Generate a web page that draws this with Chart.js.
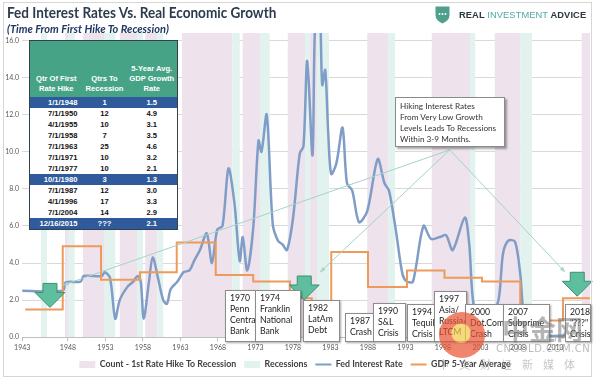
<!DOCTYPE html>
<html>
<head>
<meta charset="utf-8">
<script src="https://cdn.jsdelivr.net/npm/chart.js@4.4.1/dist/chart.umd.min.js"></script>
<style>
  body { margin: 0; background: #fff; }
  #wrap { position: relative; width: 600px; height: 384px; overflow: hidden; font-family: Lato, 'Open Sans', sans-serif; }
  #fedChart { position: absolute; left: 0; top: 0; }
  .frame { position: absolute; left: 3px; top: 2px; width: 589px; height: 375px; border: 1px solid #d6d6d6; box-sizing: border-box; pointer-events: none; }
  .title { position: absolute; left: 7px; top: 3px; font: bold 15.5px Lato, sans-serif; color: #2c3b4d; white-space: nowrap;
           transform: scaleX(0.875); transform-origin: left top; }
  .subtitle { position: absolute; left: 7px; top: 22px; font: italic bold 11px Lato, sans-serif; color: #1f3864; white-space: nowrap; }
  .logo { position: absolute; left: 435px; top: 6px; height: 18px; display: flex; align-items: center; white-space: nowrap; }
  .logo span.txt { margin-left: 9px; font: bold 9.3px 'Liberation Sans', Arial, sans-serif; color: #2b3640; letter-spacing: 0.1px; }
  .logo span.mid { color: #4fa9a2; font-weight: normal; }
  #tbl { position: absolute; left: 29px; top: 40px; width: 148px; border-collapse: collapse; table-layout: fixed;
         font: bold 7.6px 'Liberation Sans', Arial, sans-serif; color: #111; border: 1px solid #34404c; background: #fff; }
  #tbl th { background: #47a386; color: #fff; height: 53px; vertical-align: bottom; line-height: 10px; padding: 0 0 3px; font-weight: bold; }
  #tbl td { height: 11px; padding: 0; line-height: 11px; text-align: center; white-space: nowrap; overflow: hidden; }
  #tbl td:first-child { text-align: right; padding-right: 5px; }
  #tbl tr.hl td { background: #2f5a9c; color: #fff; }
  .note { position: absolute; left: 395px; top: 97px; width: 110px; height: 50px; box-sizing: border-box; background: #fff;
          border: 1px solid #8a8a8a; box-shadow: 2px 2px 2px rgba(0,0,0,0.35); padding: 3px 0 0 4px;
          font: 8.2px Lato, sans-serif; line-height: 11px; color: #333; white-space: nowrap; overflow: hidden; }
  .ev { position: absolute; box-sizing: border-box; background: #fff; border: 1px solid #8c8c8c; box-shadow: 1px 1px 2px rgba(0,0,0,0.35);
        overflow: hidden; padding: 1px 0 0 4px; font: 8.7px Lato, sans-serif; line-height: 11px; color: #222; white-space: nowrap; }
  .wm { position: absolute; pointer-events: none; white-space: nowrap; }
</style>
</head>
<body>
<div id="wrap">
  <canvas id="fedChart" width="600" height="384"></canvas>
  <div class="frame"></div>

  <div class="title">Fed Interest Rates Vs. Real Economic Growth</div>
  <div class="subtitle">(Time From First Hike To Recession)</div>
  <div class="logo">
    <svg width="15" height="18" viewBox="0 0 15 18">
      <path d="M0.5,0.5 H14.5 V9 Q14.5,14.5 7.5,17.5 Q0.5,14.5 0.5,9 Z" fill="#4e9f8b"/>
      <circle cx="4.5" cy="8" r="1" fill="#fff"/><circle cx="7.5" cy="8" r="1" fill="#fff"/><circle cx="10.5" cy="8" r="1" fill="#fff"/>
    </svg>
    <span class="txt">REAL <span class="mid">INVESTMENT</span> ADVICE</span>
  </div>

  <table id="tbl">
    <colgroup><col style="width:53px"><col style="width:44px"><col style="width:51px"></colgroup>
    <tr><th>Qtr Of First<br>Rate Hike</th><th>Qtrs To<br>Recession</th><th>5-Year Avg.<br>GDP Growth<br>Rate</th></tr>
    <tr class="hl"><td>1/1/1948</td><td>1</td><td>1.5</td></tr>
    <tr><td>7/1/1950</td><td>12</td><td>4.9</td></tr>
    <tr><td>4/1/1955</td><td>10</td><td>3.1</td></tr>
    <tr><td>7/1/1958</td><td>7</td><td>3.5</td></tr>
    <tr><td>7/1/1963</td><td>25</td><td>4.6</td></tr>
    <tr><td>7/1/1971</td><td>10</td><td>3.2</td></tr>
    <tr><td>7/1/1977</td><td>10</td><td>2.1</td></tr>
    <tr class="hl"><td>10/1/1980</td><td>3</td><td>1.3</td></tr>
    <tr><td>7/1/1987</td><td>12</td><td>3.0</td></tr>
    <tr><td>4/1/1996</td><td>17</td><td>3.3</td></tr>
    <tr><td>7/1/2004</td><td>14</td><td>2.9</td></tr>
    <tr class="hl"><td>12/16/2015</td><td>???</td><td>2.1</td></tr>
  </table>

  <div class="note">Hiking Interest Rates<br>From Very Low Growth<br>Levels Leads To Recessions<br>Within 3-9 Months.</div>

  <div class="ev" style="left:225px;top:290px;width:31px;height:52px;">1970<br>Penn<br>Central<br>Bank</div>
  <div class="ev" style="left:255px;top:290px;width:46px;height:52px;">1974<br>Franklin<br>National<br>Bank</div>
  <div class="ev" style="left:303px;top:300px;width:37px;height:42px;">1982<br>LatAm<br>Debt</div>
  <div class="ev" style="left:345px;top:313px;width:29px;height:29px;">1987<br>Crash</div>
  <div class="ev" style="left:373px;top:303px;width:33px;height:39px;">1990<br>S&amp;L<br>Crisis</div>
  <div class="ev" style="left:407px;top:304px;width:29px;height:38px;">1994<br>Tequila<br>Crisis</div>
  <div class="ev" style="left:434px;top:291px;width:33px;height:51px;">1997<br>Asia/<br>Russia/<br>LTCM</div>
  <div class="ev" style="left:465px;top:304px;width:39px;height:38px;">2000<br>Dot.Com<br>Crash</div>
  <div class="ev" style="left:503px;top:304px;width:47px;height:38px;">2007<br>Subprime<br>Crisis</div>
  <div class="ev" style="left:565px;top:304px;width:26px;height:38px;">2018<br>"???"<br>Crisis</div>

  <div class="wm" style="left:439px;top:312px;width:46px;height:46px;border-radius:50%;opacity:0.7;
       background:radial-gradient(circle at 48% 46%, #f6c845 0 26%, #e8502f 30% 100%);"></div>
  <div class="wm" style="left:502px;top:309px;font:bold 27px 'Noto Sans CJK SC',sans-serif;color:rgba(120,120,120,0.55);">中金网</div>
  <div class="wm" style="left:496px;top:343px;font:10px 'DejaVu Sans',sans-serif;color:rgba(140,140,140,0.6);letter-spacing:0.5px;">CNGOLD.COM.CN</div>
  <div class="wm" style="left:438px;top:356px;font:11px 'Noto Sans CJK SC',sans-serif;color:rgba(150,150,150,0.55);letter-spacing:10px;">中文财经新媒体</div>
</div>

<script>
// x positions are in years, y values in percent
const xTickYears = [1941.9, 1948, 1953, 1958, 1963, 1968, 1973, 1978, 1983, 1988, 1993, 1998, 2003, 2008, 2013];
const xTickLabels = ['1943', '1948', '1953', '1958', '1963', '1968', '1973', '1978', '1983', '1988', '1993', '1998', '2003', '2008', '2013'];
const yTicks = [0, 2, 4, 6, 8, 10, 12, 14, 16];

// first rate hike -> recession start (pink)
const hikeStarts = [1947.6, 1950.0, 1954.9, 1958.3, 1963.2, 1971.3, 1977.3, 1980.2, 1987.9, 1996.5, 2004.9, 2016.5];
const hikeEnds   = [1948.0, 1952.9, 1957.2, 1959.9, 1969.9, 1973.6, 1979.6, 1981.2, 1990.7, 2001.6, 2008.3, 2017.6];
// recessions (teal)
const recStarts = [1944.4, 1948.0, 1952.9, 1957.2, 1959.9, 1969.9, 1973.6, 1979.6, 1981.2, 1990.7, 2001.6, 2008.3];
const recEnds   = [1945.2, 1948.9, 1954.3, 1958.0, 1960.7, 1970.9, 1974.9, 1980.2, 1982.8, 1991.6, 2002.3, 2009.9];

const fedYears = [1941.9, 1947.3, 1947.7, 1949.7, 1950.1, 1952.5, 1952.9, 1953.6, 1954.3, 1954.9,
  1955.9, 1956.7, 1957.3, 1957.7, 1958.1, 1958.8, 1959.3, 1960.0, 1960.7, 1961.2,
  1961.7, 1962.6, 1963.4, 1964.2, 1964.8, 1965.6, 1966.5, 1967.2, 1967.9, 1968.6,
  1969.4, 1970.2, 1970.9, 1971.3, 1971.9, 1972.7, 1973.4, 1973.8, 1974.5, 1975.3,
  1976.0, 1976.6, 1977.2, 1978.0, 1978.9, 1979.4, 1979.9, 1980.6, 1980.9, 1981.3,
  1981.6, 1981.9, 1982.3, 1982.7, 1983.1, 1983.8, 1984.6, 1985.2, 1985.9, 1986.8,
  1987.9, 1989.3, 1990.2, 1990.8, 1991.7, 1992.6, 1993.2, 1994.0, 1995.4, 1996.4,
  1997.6, 1998.4, 1999.3, 2000.9, 2001.5, 2002.1, 2003.2, 2004.4, 2005.4, 2006.0,
  2006.7, 2007.6, 2008.3, 2008.8, 2009.5, 2015.8, 2016.5, 2017.6];
const fedRates = [2.5, 2.5, 2.95, 3.0, 3.3, 3.3, 3.5, 3.2, 1.0, 2.0,
  2.7, 3.0, 3.3, 3.0, 1.0, 3.0, 4.3, 3.2, 2.0, 1.8,
  2.6, 3.0, 3.5, 3.6, 4.1, 4.7, 5.6, 4.0, 5.8, 6.0,
  9.1, 7.2, 4.1, 5.4, 3.6, 5.9, 10.6, 10.0, 12.0, 6.1,
  5.2, 5.0, 4.7, 6.4, 9.9, 10.3, 14.9, 9.8, 16.3, 17.8,
  17.6, 13.6, 14.4, 11.0, 8.8, 9.4, 11.3, 8.3, 7.9, 6.2,
  6.8, 9.6, 8.3, 7.9, 5.8, 3.4, 3.0, 3.0, 6.0, 5.3,
  5.4, 5.5, 4.7, 6.45, 5.0, 1.7, 1.0, 1.2, 2.0, 4.5,
  5.2, 5.15, 3.4, 1.0, 0.15, 0.15, 0.4, 1.2];

// GDP 5-year average, each value holds until the next year
const gdpYears = [1942.3, 1947.3, 1952.4, 1957.6, 1962.5, 1967.7, 1972.7, 1977.6, 1980.5, 1983.1, 1988.0, 1993.2, 1998.2, 2003.2, 2008.3, 2014.0, 2017.6];
const gdpValues = [1.5, 4.9, 3.1, 3.5, 5.1, 3.35, 3.0, 2.1, 1.3, 4.6, 2.7, 3.6, 3.2, 3.0, 0.9, 2.1, 2.1];

// callout from the note box to the three arrows, and the arrows themselves
const calloutFrom = [1998.9, 10.1];
const calloutToYears = [1947.3, 1981.6, 2014.3];
const calloutToValues = [2.8, 3.5, 3.5];
const arrowYears = [1945.6, 1979.5, 2015.9];
const arrowTops = [2.9, 3.3, 3.5];

const Y_TOP = 16.4;

function bandPoints(starts, ends) {
  return starts.flatMap((s, i) => [{ x: s, y: Y_TOP }, { x: ends[i], y: 0 }]);
}

const calloutPlugin = {
  id: 'callouts',
  afterDatasetsDraw(chart) {
    const { ctx, scales: { x, y } } = chart;
    const fx = x.getPixelForValue(calloutFrom[0]);
    const fy = y.getPixelForValue(calloutFrom[1]);
    ctx.save();
    ctx.strokeStyle = '#a5d3ca';
    ctx.fillStyle = '#a5d3ca';
    ctx.lineWidth = 1;
    calloutToYears.forEach((yr, i) => {
      const tx = x.getPixelForValue(yr);
      const ty = y.getPixelForValue(calloutToValues[i]);
      ctx.beginPath();
      ctx.moveTo(fx, fy);
      ctx.lineTo(tx, ty);
      ctx.stroke();
      const a = Math.atan2(ty - fy, tx - fx);
      ctx.beginPath();
      ctx.moveTo(tx, ty);
      ctx.lineTo(tx - 6 * Math.cos(a - 0.35), ty - 6 * Math.sin(a - 0.35));
      ctx.lineTo(tx - 6 * Math.cos(a + 0.35), ty - 6 * Math.sin(a + 0.35));
      ctx.closePath();
      ctx.fill();
    });
    arrowYears.forEach((yr, i) => {
      const cx = x.getPixelForValue(yr);
      const top = y.getPixelForValue(arrowTops[i]);
      ctx.beginPath();
      ctx.moveTo(cx - 7, top);
      ctx.lineTo(cx + 7, top);
      ctx.lineTo(cx + 7, top + 9);
      ctx.lineTo(cx + 15, top + 9);
      ctx.lineTo(cx, top + 24);
      ctx.lineTo(cx - 15, top + 9);
      ctx.lineTo(cx - 7, top + 9);
      ctx.closePath();
      ctx.fillStyle = '#5dbf9d';
      ctx.fill();
      ctx.strokeStyle = '#3f8e75';
      ctx.stroke();
    });
    ctx.restore();
  }
};

const ctx = document.getElementById('fedChart').getContext('2d');

const fedChart = new Chart(ctx, {
  type: 'line',
  data: {
    datasets: [{
      label: 'Count - 1st Rate Hike To Recession',
      data: bandPoints(hikeStarts, hikeEnds),
      stepped: true,
      fill: 'origin',
      backgroundColor: '#eee2ec',
      borderColor: 'rgba(0,0,0,0)',
      borderWidth: 0,
      pointRadius: 0,
      pointStyle: 'rect',
      pointBorderWidth: 0,
      order: 4
    }, {
      label: 'Recessions',
      data: bandPoints(recStarts, recEnds),
      stepped: true,
      fill: 'origin',
      backgroundColor: '#e2f2ee',
      borderColor: 'rgba(0,0,0,0)',
      borderWidth: 0,
      pointRadius: 0,
      pointStyle: 'rect',
      pointBorderWidth: 0,
      order: 3
    }, {
      label: 'Fed Interest Rate',
      data: fedYears.map((yr, i) => ({ x: yr, y: fedRates[i] })),
      borderColor: '#7f9dc7',
      borderWidth: 2.5,
      tension: 0.3,
      fill: false,
      pointRadius: 0,
      pointStyle: 'line',
      pointBorderWidth: 2,
      order: 2
    }, {
      label: 'GDP 5-Year Average',
      data: gdpYears.map((yr, i) => ({ x: yr, y: gdpValues[i] })),
      borderColor: '#ee9a5a',
      borderWidth: 2,
      stepped: true,
      fill: false,
      pointRadius: 0,
      pointStyle: 'line',
      pointBorderWidth: 2,
      order: 1
    }]
  },
  options: {
    responsive: false,
    animation: false,
    layout: { padding: { top: 33, right: 10, left: 0, bottom: 5 } },
    scales: {
      x: {
        type: 'linear',
        min: 1941.87,
        max: 2017.6,
        afterBuildTicks: (s) => { s.ticks = xTickYears.map(v => ({ value: v })); },
        afterFit: (s) => { s.height = 15; },
        ticks: {
          autoSkip: false,
          maxRotation: 0,
          padding: 2,
          color: '#595959',
          font: { family: 'Lato', size: 7 },
          callback: (v, i) => xTickLabels[i]
        },
        grid: { drawOnChartArea: false, drawTicks: true, tickLength: 4, color: '#bfbfbf' },
        border: { display: true, color: '#bfbfbf' }
      },
      y: {
        min: 0,
        max: Y_TOP,
        afterBuildTicks: (s) => { s.ticks = yTicks.map(v => ({ value: v })); },
        afterFit: (s) => { s.width = 22; },
        ticks: {
          padding: 3,
          color: '#595959',
          font: { family: 'Lato', size: 7 },
          callback: (v) => Number(v).toFixed(1)
        },
        grid: { color: '#d9d9d9', drawTicks: false },
        border: { display: false }
      }
    },
    plugins: {
      legend: {
        display: true,
        position: 'bottom',
        labels: {
          usePointStyle: true,
          pointStyleWidth: 16,
          boxHeight: 7,
          padding: 8,
          color: '#404040',
          font: { family: 'Lato', size: 8.8, weight: 'bold' },
          sort: (a, b) => a.datasetIndex - b.datasetIndex
        }
      },
      tooltip: { enabled: false }
    }
  },
  plugins: [calloutPlugin]
});
</script>
</body>
</html>
